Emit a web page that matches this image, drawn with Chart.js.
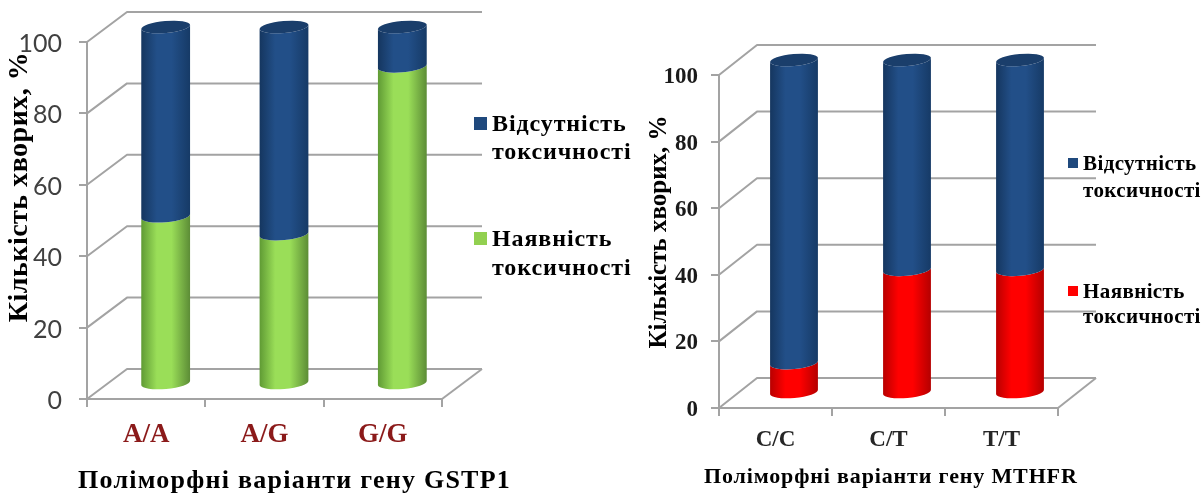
<!DOCTYPE html>
<html>
<head>
<meta charset="utf-8">
<style>
  html, body { margin: 0; padding: 0; background: #fff; }
  canvas { position: absolute; top: 0; }
</style>
<script src="https://cdn.jsdelivr.net/npm/chart.js@4"></script>
</head>
<body>
<canvas id="gstp1" width="640" height="495" style="left:0"></canvas>
<canvas id="mthfr" width="563" height="495" style="left:640px"></canvas>
<script>
const valueTicks = [0, 20, 40, 60, 80, 100];
const labelAbsent = 'Відсутність токсичності';
const labelPresent = 'Наявність токсичності';
const yTitle = 'Кількість хворих, %';

const gstp1Categories = ['A/A', 'A/G', 'G/G'];
const gstp1Present = [47, 42, 89];
const gstp1Absent = [53, 58, 11];
const gstp1Title = 'Поліморфні варіанти гену GSTP1';

const mthfrCategories = ['C/C', 'C/T', 'T/T'];
const mthfrPresent = [9, 37, 37];
const mthfrAbsent = [91, 63, 63];
const mthfrTitle = 'Поліморфні варіанти гену MTHFR';

const SERIF = '"Liberation Serif", serif';
const GRID = '#a3a3a3';

// Shades of each series colour across a cylinder: rim, middle, rim
const SHADES = {
  '#1f497d': ['#15365f', '#224f88', '#163a66'],
  '#92d050': ['#5f9a34', '#9ade58', '#5c8c36'],
  '#ff0000': ['#b80000', '#ff0000', '#b40000']
};
const CAP = '#1a3e6b';
const TILT = -0.09;

// Floor, side wall and back wall of the 3D plot box, taken from the scales
const wallsAndCylinders = {
  id: 'wallsAndCylinders',
  beforeDatasetsDraw(chart, args, opts) {
    const { ctx, chartArea: a, scales: { y } } = chart;
    const { dx, dy, ry } = opts;
    ctx.save();
    ctx.strokeStyle = GRID;
    ctx.lineWidth = 2;
    ctx.lineJoin = 'round';
    valueTicks.forEach(v => {
      const py = y.getPixelForValue(v);
      ctx.beginPath();
      ctx.moveTo(a.left, py);
      ctx.lineTo(a.left + dx, py - dy);
      ctx.lineTo(a.right + dx, py - dy);
      ctx.stroke();
    });
    const y0 = y.getPixelForValue(0);
    ctx.beginPath();
    ctx.moveTo(a.right + dx, y0 - dy);
    ctx.lineTo(a.right, y0);
    ctx.stroke();

    // Stacked cylinders, lowest series first so the upper one's rim overlaps it
    const count = chart.data.datasets.length;
    chart.data.datasets.forEach((ds, di) => {
      chart.getDatasetMeta(di).data.forEach(bar => {
        const r = bar.width / 2;
        const cx = bar.x + dx / 2 - 0.5;
        const yt = bar.y - dy / 2;
        const yb = bar.base - dy / 2;
        const s = Math.sin(TILT) * r;
        const grad = ctx.createLinearGradient(cx - r, 0, cx + r, 0);
        const [rim, mid, rim2] = SHADES[ds.backgroundColor];
        grad.addColorStop(0, rim);
        grad.addColorStop(0.32, mid);
        grad.addColorStop(0.62, mid);
        grad.addColorStop(1, rim2);
        ctx.beginPath();
        ctx.ellipse(cx, yb, r, ry, TILT, Math.PI, 0, true);
        ctx.lineTo(cx + r * Math.cos(TILT), yt + s);
        ctx.ellipse(cx, yt, r, ry, TILT, 0, Math.PI, false);
        ctx.closePath();
        ctx.fillStyle = grad;
        ctx.fill();
        if (di === count - 1) {
          ctx.beginPath();
          ctx.ellipse(cx, yt, r, ry, TILT, 0, Math.PI * 2);
          ctx.fillStyle = CAP;
          ctx.fill();
        }
      });
    });
    ctx.restore();
  },
  beforeDatasetDraw() {
    return false;
  }
};

// Axis titles and the two-line legend entries beside the plot
const captions = {
  id: 'captions',
  afterDraw(chart, args, opts) {
    const { ctx } = chart;
    ctx.save();
    ctx.fillStyle = '#000';
    ctx.textBaseline = 'middle';

    ctx.save();
    ctx.font = opts.yTitle.font;
    ctx.letterSpacing = opts.yTitle.spacing;
    ctx.textAlign = 'center';
    ctx.translate(opts.yTitle.x, opts.yTitle.y);
    ctx.rotate(-Math.PI / 2);
    ctx.fillText(yTitle, 0, 0);
    ctx.restore();

    ctx.font = opts.xTitle.font;
    ctx.letterSpacing = opts.xTitle.spacing;
    ctx.textAlign = 'left';
    ctx.fillText(opts.xTitle.text, opts.xTitle.x, opts.xTitle.y);

    ctx.font = opts.legend.font;
    ctx.letterSpacing = opts.legend.spacing;
    const datasets = chart.data.datasets.slice().reverse();
    datasets.forEach((ds, i) => {
      const row = opts.legend.rows[i];
      ctx.fillStyle = ds.backgroundColor;
      ctx.fillRect(row.x, row.y, opts.legend.box, opts.legend.box);
      ctx.fillStyle = '#000';
      ds.label.split(' ').forEach((word, l) => {
        ctx.fillText(word, opts.legend.textX, row.text[l]);
      });
    });
    ctx.restore();
  }
};

function build(id, categories, present, absent, colour, cfg) {
  return new Chart(document.getElementById(id), {
    type: 'bar',
    data: {
      labels: categories,
      datasets: [
        { label: labelPresent, data: present, backgroundColor: colour },
        { label: labelAbsent, data: absent, backgroundColor: '#1f497d' }
      ]
    },
    options: {
      responsive: false,
      animation: false,
      layout: { padding: cfg.padding },
      datasets: { bar: { barPercentage: cfg.barPercentage, categoryPercentage: 1 } },
      scales: {
        x: {
          stacked: true,
          afterFit(s) { s.height = cfg.xHeight; },
          grid: { drawOnChartArea: false, color: GRID, lineWidth: 2, tickLength: 8 },
          border: { color: GRID, width: 2 },
          ticks: { font: cfg.xFont, color: cfg.xColor, padding: cfg.xPad, maxRotation: 0 }
        },
        y: {
          stacked: true,
          min: 0,
          max: 100,
          afterBuildTicks(s) { s.ticks = valueTicks.map(value => ({ value })); },
          afterFit(s) { s.width = cfg.yWidth; },
          grid: { drawOnChartArea: false, color: GRID, lineWidth: 2, tickLength: 8 },
          border: { color: GRID, width: 2 },
          ticks: { font: cfg.yFont, color: cfg.yColor, padding: cfg.yPad, labelOffset: cfg.yNudge }
        }
      },
      plugins: {
        legend: { display: false },
        tooltip: { enabled: false },
        wallsAndCylinders: { dx: cfg.dx, dy: 30, ry: 6 },
        captions: cfg.captions
      }
    },
    plugins: [wallsAndCylinders, captions]
  });
}

build('gstp1', gstp1Categories, gstp1Present, gstp1Absent, '#92d050', {
  padding: { left: 0, top: 42, right: 198, bottom: 0 },
  xHeight: 96,
  yWidth: 87,
  barPercentage: 0.414,
  dx: 40,
  xFont: { family: SERIF, size: 27, weight: 'bold' },
  xColor: '#8b1a1a',
  xPad: 12,
  yFont: { family: 'Lato', size: 25 },
  yColor: '#404040',
  yPad: 17,
  yNudge: 2,
  captions: {
    yTitle: { font: 'bold 28px ' + SERIF, spacing: '0.5px', x: 20, y: 187 },
    xTitle: { font: 'bold 26px ' + SERIF, spacing: '1.25px', text: gstp1Title, x: 78, y: 481 },
    legend: {
      font: 'bold 24px ' + SERIF, spacing: '0.9px', box: 13, textX: 492,
      rows: [
        { x: 474, y: 117, text: [125, 153] },
        { x: 474, y: 232, text: [240, 269] }
      ]
    }
  }
});

build('mthfr', mthfrCategories, mthfrPresent, mthfrAbsent, '#ff0000', {
  padding: { left: 0, top: 75, right: 145, bottom: 0 },
  xHeight: 87,
  yWidth: 79,
  barPercentage: 0.425,
  dx: 38,
  xFont: { family: SERIF, size: 23, weight: 'bold' },
  xColor: '#262626',
  xPad: 10,
  yFont: { family: SERIF, size: 23, weight: 'bold' },
  yColor: '#1a1a1a',
  yPad: 13,
  yNudge: 2,
  captions: {
    yTitle: { font: 'bold 25px ' + SERIF, spacing: '0px', x: 20, y: 232 },
    xTitle: { font: 'bold 22px ' + SERIF, spacing: '0.85px', text: mthfrTitle, x: 64, y: 477 },
    legend: {
      font: 'bold 21px ' + SERIF, spacing: '0.4px', box: 10, textX: 443,
      rows: [
        { x: 428, y: 158, text: [165, 192] },
        { x: 428, y: 286, text: [293, 318] }
      ]
    }
  }
});
</script>
</body>
</html>
